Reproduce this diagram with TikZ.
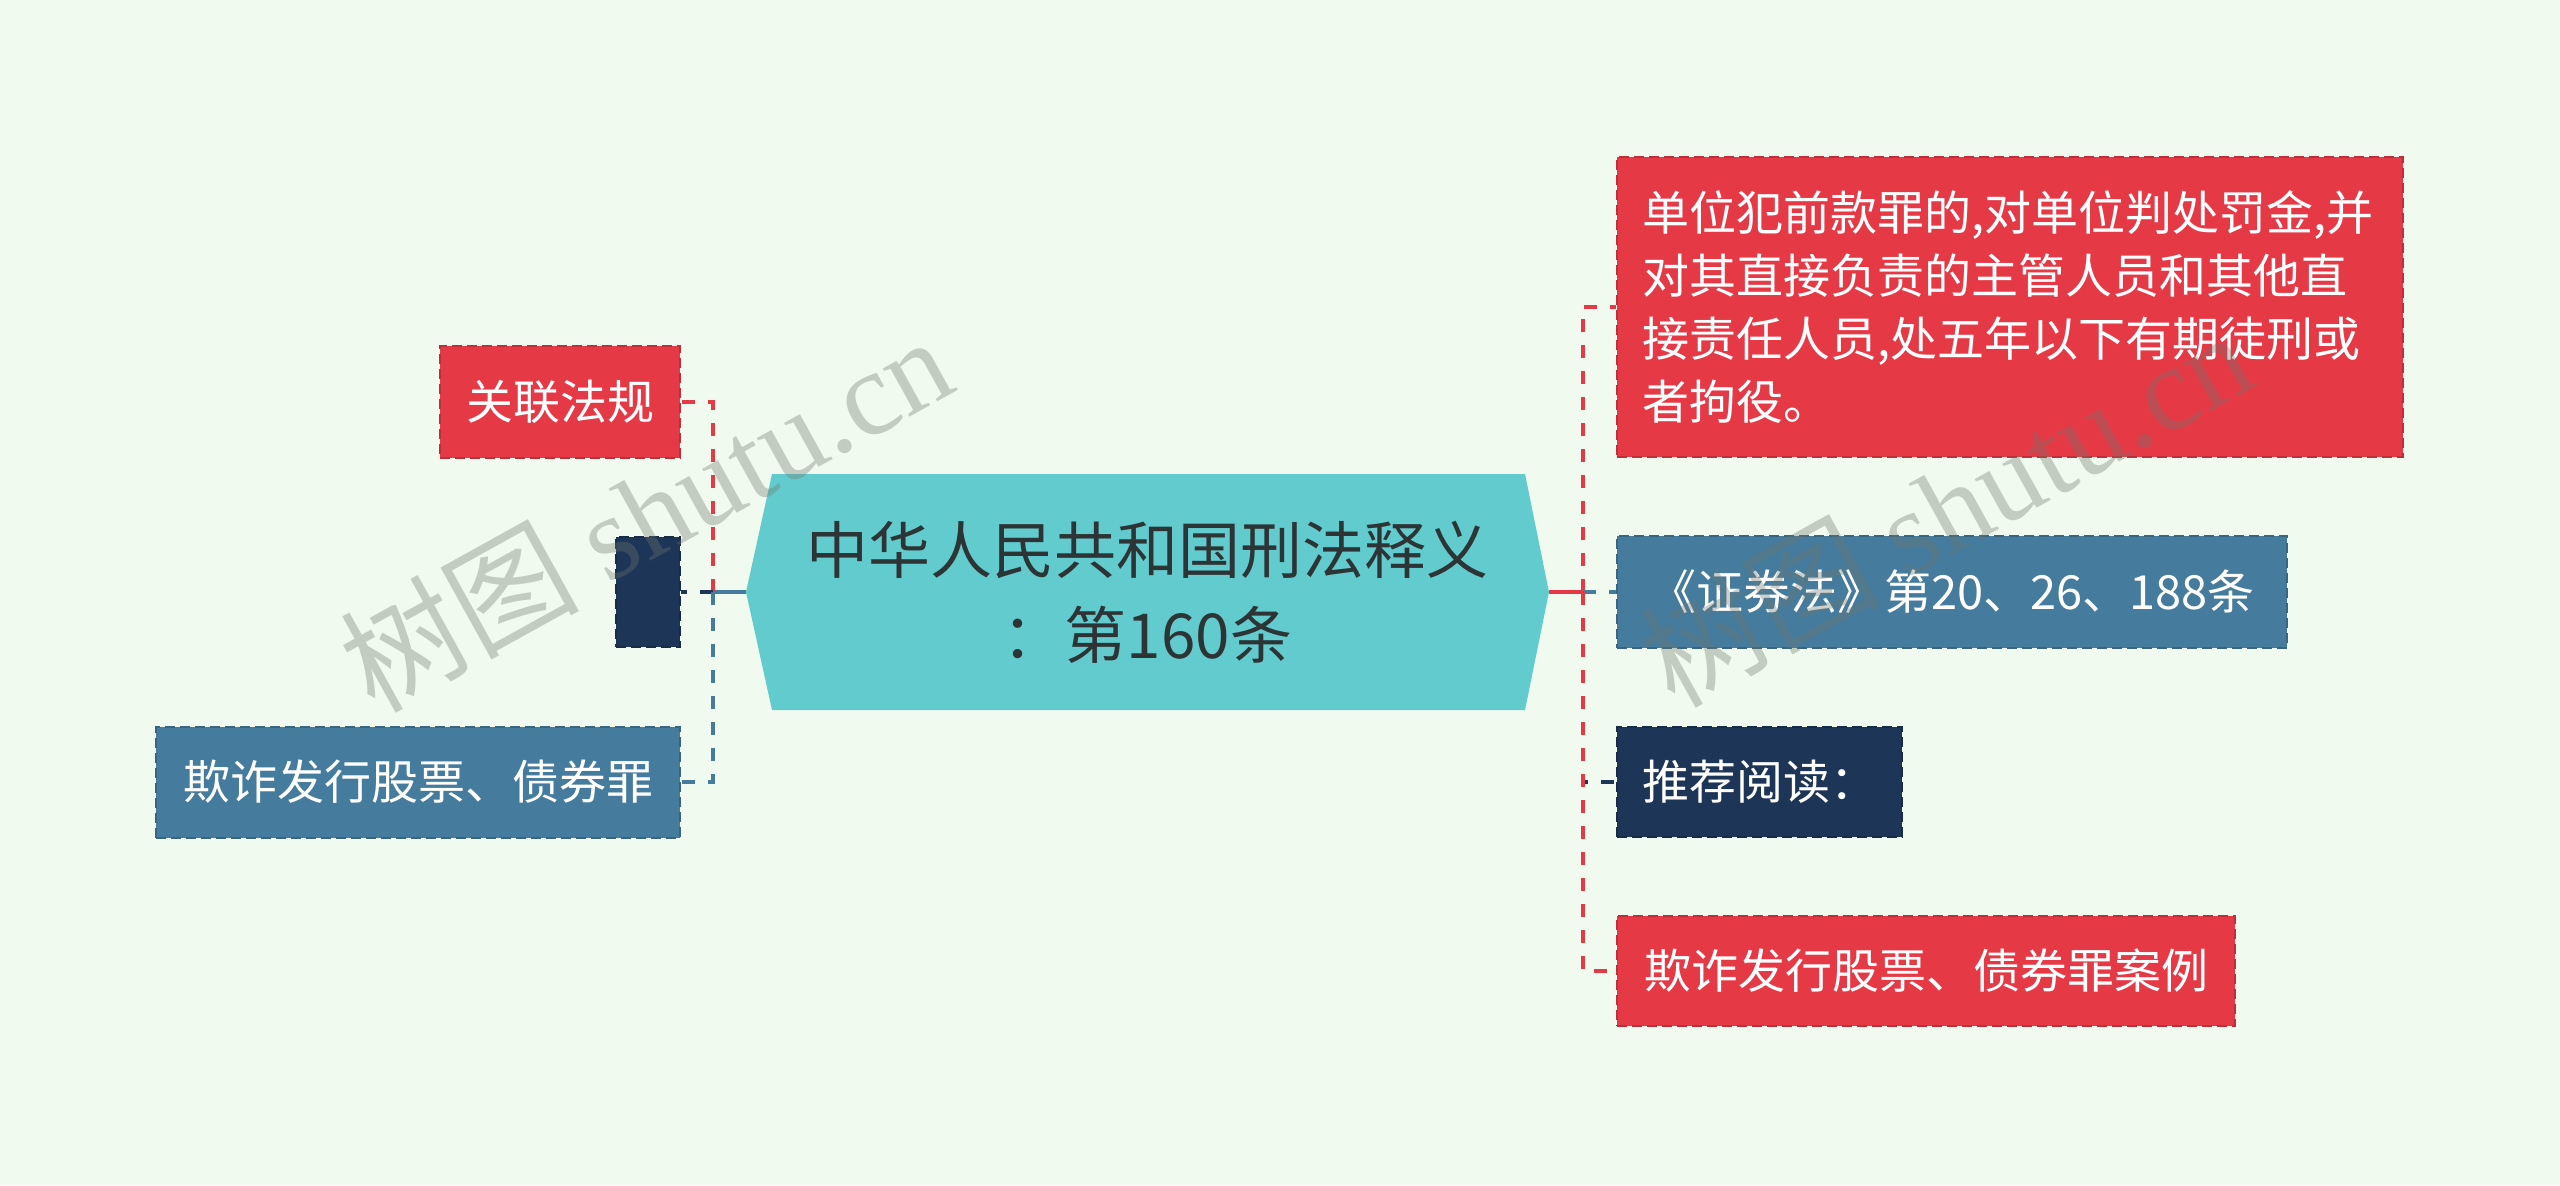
\documentclass[tikz,border=0pt]{standalone}
\usepackage{fontspec}
\setmainfont{Noto Sans CJK SC}
\newfontfamily\wmserif{Liberation Serif}
\newfontfamily\wmcjk{Noto Sans CJK SC}
\usetikzlibrary{calc}
\definecolor{bg}{HTML}{F1FAEE}
\definecolor{cred}{HTML}{E63946}
\definecolor{cblue}{HTML}{457B9D}
\definecolor{cnavy}{HTML}{1D3557}
\definecolor{cteal}{HTML}{62CBCD}
\definecolor{ctext}{HTML}{2D3436}
\definecolor{wm}{RGB}{110,120,110}
\begin{document}
\begin{tikzpicture}[x=0.5pt,y=-0.5pt,
  box/.style={dash pattern=on 5pt off 2.5pt, line width=1pt, inner sep=0pt,
    text=white, font=\fontsize{23.5pt}{31.5pt}\selectfont},
  redbox/.style={box, fill=cred, draw=cred!82!black},
  bluebox/.style={box, fill=cblue, draw=cblue!82!black},
  navybox/.style={box, fill=cnavy, draw=cnavy!82!black},
  link/.style={line width=2pt, dash pattern=on 6.5pt off 6.5pt},
  stem/.style={line width=2pt},
  watermark/.style={rotate=29, text=wm, text opacity=0.35,
    font=\fontsize{60pt}{66pt}\selectfont, inner sep=0pt}
]
\useasboundingbox (0,0) rectangle (2560,1185);
\fill[bg] (0,0) rectangle (2560,1185);

% central hexagon
\fill[cteal] (746,592) -- (772,474) -- (1525,474) -- (1549,592)
  -- (1525,710) -- (772,710) -- cycle;
\node[font=\fontsize{31pt}{42.5pt}\selectfont, text=ctext, align=center,
  minimum width=401.5pt, minimum height=118pt, inner sep=0pt]
  (hex) at (1147.5,592) {中华人民共和国刑法释义\\：第160条};

% left nodes
\node[redbox, minimum width=120pt, minimum height=56pt, anchor=east]
  (l1) at (681,402) {关联法规};
\node[navybox, minimum width=32pt, minimum height=55pt, anchor=east]
  (l2) at (681,592) {};
\node[bluebox, minimum width=262pt, minimum height=55.5pt, anchor=east]
  (l3) at (681,782) {欺诈发行股票、债券罪};

% right nodes
\node[redbox, anchor=west, align=left, text width=368pt, inner xsep=12.5pt,
  minimum height=150pt] (r1) at (1616,307)
  {单位犯前款罪的,对单位判处罚金,并\\对其直接负责的主管人员和其他直\\接责任人员,处五年以下有期徒刑或\\者拘役。};
\node[bluebox, minimum width=335pt, minimum height=56pt, anchor=west]
  (r2) at (1616,592) {《证券法》第20、26、188条};
\node[navybox, minimum width=142.5pt, minimum height=55pt, anchor=west]
  (r3) at (1616,782) {推荐阅读：};
\node[redbox, minimum width=309pt, minimum height=55pt, anchor=west]
  (r4) at (1616,971) {欺诈发行股票、债券罪案例};

% connectors
\coordinate (Lj) at (713,592);
\coordinate (Rj) at (1583,592);
\draw[stem, cblue] (hex.west) -- (Lj);
\draw[link, cred] (Lj) |- (l1.east);
\draw[link, cnavy] (Lj) -- (l2.east);
\draw[link, cblue] (Lj) |- (l3.east);
\draw[stem, cred] (hex.east) -- (Rj);
\draw[link, cred] (Rj) |- (r1.west);
\draw[link, cblue] (Rj) -- (r2.west);
\draw[link, cnavy] (Rj) |- (r3.west);
\draw[link, cred] (Rj) |- (r4.west);

% watermarks
\node[watermark] (wm1) at (645,512) {{\wmcjk 树图} {\wmserif shutu.cn}};
\node[watermark] (wm2) at (1945,507) {{\wmcjk 树图} {\wmserif shutu.cn}};
\end{tikzpicture}
\end{document}
